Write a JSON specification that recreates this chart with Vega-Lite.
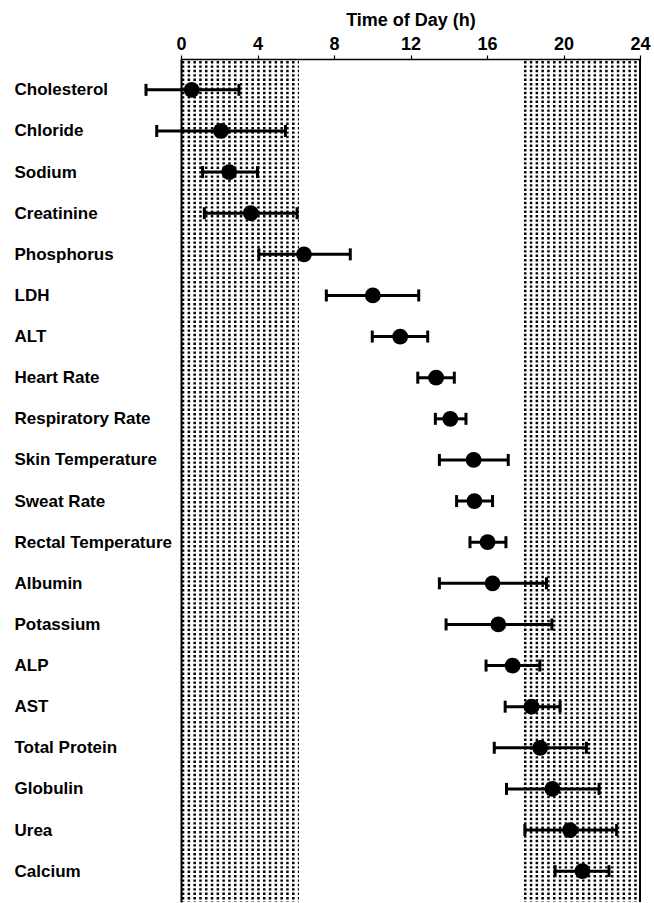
{
  "$schema": "https://vega.github.io/schema/vega-lite/v6.json",
  "width": 459,
  "height": 843,
  "autosize": {"type": "none"},
  "padding": {"left": 181, "top": 59, "right": 14, "bottom": 1},
  "background": "white",
  "config": {"view": {"stroke": null}, "font": "Liberation Sans"},
  "datasets": {
    "bands": [{"start": 0, "end": 6.17}, {"start": 17.88, "end": 24}],
    "rhythms": [
      {"name": "Cholesterol", "t": 0.56, "lo": -1.83, "hi": 3.03},
      {"name": "Chloride", "t": 2.09, "lo": -1.27, "hi": 5.46},
      {"name": "Sodium", "t": 2.52, "lo": 1.13, "hi": 4.0},
      {"name": "Creatinine", "t": 3.65, "lo": 1.22, "hi": 6.07},
      {"name": "Phosphorus", "t": 6.43, "lo": 4.07, "hi": 8.85},
      {"name": "LDH", "t": 10.03, "lo": 7.6, "hi": 12.43},
      {"name": "ALT", "t": 11.46, "lo": 10.0, "hi": 12.9},
      {"name": "Heart Rate", "t": 13.34, "lo": 12.38, "hi": 14.29},
      {"name": "Respiratory Rate", "t": 14.08, "lo": 13.3, "hi": 14.9},
      {"name": "Skin Temperature", "t": 15.3, "lo": 13.51, "hi": 17.11},
      {"name": "Sweat  Rate", "t": 15.34, "lo": 14.41, "hi": 16.29},
      {"name": "Rectal Temperature", "t": 16.03, "lo": 15.11, "hi": 16.99},
      {"name": "Albumin", "t": 16.29, "lo": 13.51, "hi": 19.11},
      {"name": "Potassium", "t": 16.59, "lo": 13.86, "hi": 19.39},
      {"name": "ALP", "t": 17.34, "lo": 15.95, "hi": 18.76},
      {"name": "AST", "t": 18.33, "lo": 16.95, "hi": 19.82},
      {"name": "Total Protein", "t": 18.78, "lo": 16.38, "hi": 21.2},
      {"name": "Globulin", "t": 19.42, "lo": 17.02, "hi": 21.86},
      {"name": "Urea", "t": 20.34, "lo": 17.98, "hi": 22.78},
      {"name": "Calcium", "t": 20.99, "lo": 19.56, "hi": 22.38}
    ]
  },
  "layer": [
    {
      "data": {"name": "bands"},
      "mark": {"type": "rect", "fill": "black"},
      "encoding": {
        "x": {
          "field": "start",
          "type": "quantitative",
          "scale": {"domain": [0, 24], "nice": false, "zero": false},
          "axis": {
            "orient": "top",
            "values": [0, 1, 2, 3, 4, 5, 6, 7, 8, 9, 10, 11, 12, 13, 14, 15, 16, 17, 18, 19, 20, 21, 22, 23, 24],
            "labelExpr": "datum.value % 4 === 0 ? datum.label : ''",
            "labelFontSize": 18,
            "labelFontWeight": "bold",
            "labelColor": "black",
            "labelFlush": false,
            "labelOverlap": false,
            "labelPadding": 2,
            "tickSize": 4,
            "tickColor": "black",
            "tickWidth": 1.2,
            "domainColor": "black",
            "domainWidth": 1.5,
            "grid": false,
            "title": "Time of Day (h)",
            "titleFontSize": 18,
            "titleFontWeight": "bold",
            "titleColor": "black",
            "titlePadding": 6,
            "zindex": 1
          }
        },
        "x2": {"field": "end"}
      }
    },
    {
      "data": {"values": [{}]},
      "mark": {"type": "rule", "stroke": "white", "strokeWidth": 2000, "strokeDash": [3.3, 2.5], "clip": true},
      "encoding": {"y": {"datum": "Sweat  Rate", "type": "nominal"}}
    },
    {
      "data": {"values": [{}]},
      "mark": {"type": "rule", "stroke": "white", "strokeWidth": 1000, "strokeDash": [2.0, 2.4], "clip": true},
      "encoding": {"x": {"datum": 12, "type": "quantitative"}}
    },
    {
      "data": {"name": "rhythms"},
      "mark": {"type": "rule", "stroke": "black", "strokeWidth": 3},
      "encoding": {
        "x": {"field": "lo", "type": "quantitative"},
        "x2": {"field": "hi"},
        "y": {
          "field": "name",
          "type": "nominal",
          "sort": null,
          "scale": {
            "type": "point",
            "padding": 0.75,
            "domain": ["Cholesterol", "Chloride", "Sodium", "Creatinine", "Phosphorus", "LDH", "ALT", "Heart Rate", "Respiratory Rate", "Skin Temperature", "Sweat  Rate", "Rectal Temperature", "Albumin", "Potassium", "ALP", "AST", "Total Protein", "Globulin", "Urea", "Calcium"]
          },
          "axis": {
            "orient": "left",
            "title": null,
            "labelAlign": "left",
            "labelBaseline": "middle",
            "labelPadding": 167,
            "ticks": false,
            "tickSize": 0,
            "labelFontSize": 17,
            "labelFontWeight": "bold",
            "labelColor": "black",
            "labelLimit": 200,
            "domain": true,
            "domainColor": "black",
            "domainWidth": 2,
            "grid": false,
            "zindex": 1
          }
        }
      }
    },
    {
      "data": {"name": "rhythms"},
      "mark": {"type": "tick", "color": "black", "thickness": 3, "size": 12, "opacity": 1},
      "encoding": {
        "x": {"field": "lo", "type": "quantitative"},
        "y": {"field": "name", "type": "nominal"}
      }
    },
    {
      "data": {"name": "rhythms"},
      "mark": {"type": "tick", "color": "black", "thickness": 3, "size": 12, "opacity": 1},
      "encoding": {
        "x": {"field": "hi", "type": "quantitative"},
        "y": {"field": "name", "type": "nominal"}
      }
    },
    {
      "data": {"name": "rhythms"},
      "mark": {"type": "circle", "color": "black", "size": 250, "opacity": 1},
      "encoding": {
        "x": {"field": "t", "type": "quantitative"},
        "y": {"field": "name", "type": "nominal"}
      }
    },
    {
      "data": {"values": [{}]},
      "mark": {"type": "rule", "stroke": "black", "strokeWidth": 2},
      "encoding": {"x": {"datum": 24, "type": "quantitative"}}
    }
  ]
}
